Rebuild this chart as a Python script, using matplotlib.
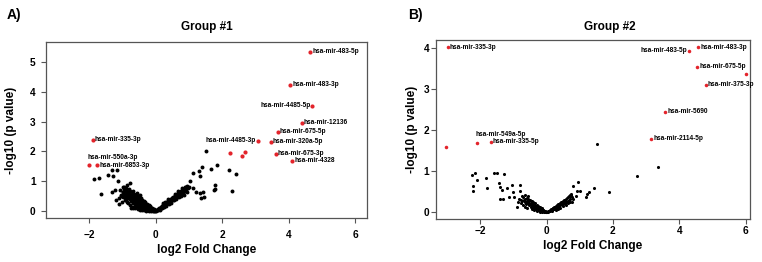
import matplotlib
matplotlib.use("Agg")
import matplotlib.pyplot as plt

plt.rcParams['font.family'] = ['Liberation Sans', 'DejaVu Sans']
plt.rcParams['font.weight'] = 'bold'

# ---- Group #1 data ----
a_black_x = [1.51, 1.12, 1.33, 1.30, 1.40, 1.65, 1.84, 2.19, 2.40, 2.29, 1.77, 1.79, 1.74, 1.04,
             1.41, 1.45, 1.35, 1.33, 1.22, 0.99, 1.12,
             -1.86, -1.70, -1.45, -1.32, -1.17, -1.30, -1.14, -1.64, -1.24, -1.31, -1.21, -1.12,
             -1.04, -0.97, -0.88, -0.78, -0.99, -0.93,
             -1.00, -0.96, -0.93, -0.90, -0.88, -0.86, -0.85, -0.84, -0.82, -0.80, -0.79, -0.78,
             -0.76, -0.75, -0.74, -0.72, -0.71, -0.70, -0.69, -0.68, -0.66, -0.65, -0.64, -0.63,
             -0.62, -0.61, -0.60, -0.59, -0.58, -0.57, -0.56, -0.55, -0.54, -0.53, -0.52, -0.51,
             -0.50, -0.49, -0.48, -0.47, -0.46, -0.45, -0.44, -0.43, -0.42, -0.41, -0.40, -0.39,
             -0.38, -0.37, -0.36, -0.35, -0.34, -0.33, -0.32, -0.31, -0.30, -0.29, -0.28, -0.27,
             -0.26, -0.25, -0.24, -0.23, -0.22, -0.21, -0.20, -0.19, -0.18, -0.17, -0.16, -0.15,
             -0.14, -0.13, -0.12, -0.11, -0.10, -0.09, -0.08, -0.07, -0.06, -0.05, -0.04, -0.03,
             -0.02, -0.01,
             -0.92, -0.95, -0.98, -0.87, -0.83, -0.77, -0.73, -0.67, -0.89, -1.05, -1.08, -0.99, -0.94,
             -1.10, -1.02, -0.91, -0.81, -0.70, -0.58, -0.47,
             -0.63, -0.55, -0.49, -0.41, -0.35, -0.28, -0.21, -0.74, -0.68,
             0.01, 0.03, 0.05, 0.06, 0.08, 0.10, 0.11, 0.13, 0.15, 0.16, 0.18, 0.20, 0.21, 0.23,
             0.25, 0.26, 0.28, 0.30, 0.31, 0.33, 0.35, 0.36, 0.38, 0.40, 0.41, 0.43, 0.45, 0.46,
             0.48, 0.50, 0.51, 0.53, 0.55, 0.56, 0.58, 0.60, 0.61, 0.63, 0.65, 0.66, 0.68, 0.70,
             0.72, 0.74, 0.76, 0.78, 0.80, 0.82, 0.84, 0.86, 0.88, 0.90, 0.92, 0.95, 0.97, 0.93,
             0.85, 0.75, 0.70, 0.62, 0.55, 0.47, 0.40, 0.32, 0.25, 0.18, 0.12,
             0.44, 0.52, 0.64, 0.73, 0.81, 0.89,
             0.22, 0.29, 0.37, 0.58, 0.67, 0.79, 0.87]
a_black_y = [2.03, 1.29, 1.16, 1.34, 1.49, 1.41, 1.53, 1.36, 1.25, 0.67, 0.88, 0.75, 0.71, 0.99,
             0.65, 0.48, 0.43, 0.60, 0.65, 0.82, 0.76,
             1.07, 1.09, 1.21, 1.37, 1.37, 1.18, 1.00, 0.58, 0.71, 0.62, 0.37, 0.24,
             0.51, 0.82, 0.86, 0.95, 0.65, 0.48,
             0.80, 0.72, 0.66, 0.70, 0.60, 0.52, 0.44, 0.65, 0.58, 0.50, 0.40, 0.68,
             0.33, 0.55, 0.46, 0.62, 0.38, 0.28, 0.52, 0.45, 0.58, 0.35, 0.22, 0.48,
             0.41, 0.55, 0.30, 0.18, 0.44, 0.37, 0.50, 0.26, 0.15, 0.40, 0.33, 0.46,
             0.22, 0.12, 0.36, 0.29, 0.42, 0.19, 0.10, 0.32, 0.26, 0.38, 0.16, 0.08,
             0.28, 0.22, 0.33, 0.13, 0.06, 0.24, 0.19, 0.29, 0.10, 0.05, 0.20, 0.15,
             0.24, 0.08, 0.03, 0.17, 0.12, 0.20, 0.06, 0.02, 0.13, 0.09, 0.15, 0.04,
             0.01, 0.10, 0.06, 0.11, 0.03, 0.01, 0.07, 0.04, 0.06, 0.02, 0.01, 0.03,
             0.01, 0.02,
             0.48, 0.58, 0.62, 0.30, 0.25, 0.20, 0.14, 0.12, 0.38, 0.55, 0.70, 0.45, 0.35,
             0.42, 0.30, 0.78, 0.74, 0.66, 0.60, 0.52,
             0.08, 0.06, 0.04, 0.03, 0.02, 0.01, 0.01, 0.10, 0.09,
             0.01, 0.03, 0.04, 0.02, 0.07, 0.08, 0.05, 0.11, 0.12, 0.09, 0.16, 0.17, 0.13, 0.20,
             0.22, 0.18, 0.25, 0.26, 0.22, 0.29, 0.30, 0.27, 0.34, 0.35, 0.31, 0.38, 0.39, 0.35,
             0.42, 0.44, 0.40, 0.47, 0.48, 0.44, 0.51, 0.52, 0.48, 0.55, 0.57, 0.52, 0.60, 0.61,
             0.56, 0.64, 0.66, 0.62, 0.70, 0.72, 0.67, 0.75, 0.78, 0.73, 0.80, 0.84, 0.78, 0.62,
             0.55, 0.50, 0.45, 0.40, 0.35, 0.28, 0.22, 0.17, 0.12, 0.08, 0.04,
             0.32, 0.36, 0.46, 0.54, 0.60, 0.66,
             0.25, 0.31, 0.40, 0.58, 0.66, 0.76, 0.82]

a_red_x = [4.64, 4.04, 4.71, 4.38, 3.66, 3.46, 3.06, 3.61, 4.10, -1.90, -2.02, -1.77, 2.24, 2.67, 2.60]
a_red_y = [5.36, 4.25, 3.54, 2.97, 2.66, 2.33, 2.36, 1.93, 1.69, 2.40, 1.53, 1.53, 1.94, 1.99, 1.84]
a_names = ['hsa-mir-483-5p', 'hsa-mir-483-3p', 'hsa-mir-4485-5p', 'hsa-mir-12136', 'hsa-mir-675-5p',
           'hsa-mir-320a-5p', 'hsa-mir-4485-3p', 'hsa-mir-675-3p', 'hsa-mir-4328', 'hsa-mir-335-3p',
           'hsa-mir-550a-3p', 'hsa-mir-6853-3p', '', '', '']
a_side = ['r', 'r', 'l', 'r', 'r', 'r', 'l', 'r', 'r', 'r', 'u', 'r', '', '', '']

# ---- Group #2 data ----
b_black_x = [1.52, 3.36, 2.74, 1.88, 1.44, 1.20, 1.22, 1.27, 0.95, 1.01, 0.92, 0.81, 0.75, 0.89,
             0.80, 0.78, 0.70,
             -2.24, -2.17, -2.11, -2.23, -2.21, -1.82, -1.78, -1.59, -1.48, -1.28, -1.44, -1.40,
             -1.34, -1.41, -1.30, -1.20, -1.13, -1.05, -1.01, -0.97, -0.80, -0.79, -0.87, -0.90,
             -0.77, -0.65, -0.57, -0.61,
             -0.70, -0.68, -0.66, -0.64, -0.62, -0.60, -0.58, -0.57, -0.55, -0.54, -0.52, -0.51,
             -0.50, -0.48, -0.47, -0.46, -0.45, -0.43, -0.42, -0.41, -0.40, -0.38, -0.37, -0.36,
             -0.35, -0.33, -0.32, -0.31, -0.30, -0.28, -0.27, -0.26, -0.25, -0.23, -0.22, -0.21,
             -0.20, -0.18, -0.17, -0.16, -0.15, -0.13, -0.12, -0.11, -0.10, -0.08, -0.07, -0.06,
             -0.05, -0.03, -0.02, -0.01,
             -0.75, -0.72, -0.78, -0.66, -0.59, -0.82, -0.74,
             0.01, 0.03, 0.05, 0.07, 0.09, 0.10, 0.12, 0.14, 0.16, 0.18, 0.20, 0.22, 0.24, 0.26,
             0.28, 0.30, 0.32, 0.34, 0.36, 0.38, 0.40, 0.42, 0.44, 0.46, 0.48, 0.50, 0.52, 0.54,
             0.56, 0.58, 0.60, 0.62, 0.64, 0.66, 0.68, 0.70, 0.72, 0.75, 0.78, 0.58, 0.50, 0.42,
             0.65, 0.72, 0.35, 0.28,
             -0.44, -0.39, -0.29, -0.19, 0.15, 0.25, 0.38, 0.55, 0.68]
b_black_y = [1.66, 1.10, 0.89, 0.51, 0.60, 0.37, 0.46, 0.50, 0.75, 0.53, 0.53, 0.65, 0.46, 0.40,
             0.33, 0.26, 0.42,
             0.91, 0.95, 0.79, 0.65, 0.53, 0.83, 0.59, 0.95, 0.95, 0.93, 0.72, 0.63,
             0.54, 0.33, 0.33, 0.59, 0.37, 0.67, 0.49, 0.38, 0.67, 0.53, 0.25, 0.14,
             0.30, 0.42, 0.40, 0.24,
             0.38, 0.30, 0.34, 0.26, 0.20, 0.36, 0.29, 0.22, 0.32, 0.17, 0.27, 0.21,
             0.30, 0.14, 0.24, 0.19, 0.27, 0.12, 0.21, 0.16, 0.25, 0.10, 0.19, 0.14,
             0.22, 0.08, 0.16, 0.12, 0.19, 0.06, 0.13, 0.10, 0.16, 0.05, 0.11, 0.08,
             0.13, 0.03, 0.08, 0.06, 0.10, 0.02, 0.06, 0.04, 0.07, 0.01, 0.04, 0.03,
             0.04, 0.01, 0.02, 0.01,
             0.28, 0.18, 0.22, 0.14, 0.10, 0.32, 0.40,
             0.01, 0.02, 0.03, 0.04, 0.05, 0.03, 0.07, 0.08, 0.06, 0.10, 0.11, 0.08, 0.13, 0.14,
             0.11, 0.16, 0.18, 0.14, 0.20, 0.21, 0.17, 0.23, 0.25, 0.20, 0.26, 0.28, 0.23, 0.30,
             0.31, 0.26, 0.33, 0.35, 0.29, 0.37, 0.39, 0.32, 0.41, 0.43, 0.37, 0.18, 0.15, 0.12,
             0.22, 0.25, 0.09, 0.06,
             0.08, 0.05, 0.03, 0.02, 0.03, 0.09, 0.16, 0.20, 0.27]

b_red_x = [-2.98, -3.04, -2.11, -1.68, 4.30, 4.57, 4.54, 6.02, 4.80, 3.58, 3.16]
b_red_y = [4.02, 1.60, 1.70, 1.72, 3.94, 4.02, 3.55, 3.38, 3.11, 2.45, 1.79]
b_names = ['hsa-mir-335-3p', '', 'hsa-mir-549a-5p', 'hsa-mir-335-5p', 'hsa-mir-483-5p',
           'hsa-mir-483-3p', 'hsa-mir-675-5p', '', 'hsa-mir-375-3p', 'hsa-mir-5690', 'hsa-mir-2114-5p']
b_side = ['r', '', 'u', 'r', 'l', 'r', 'r', '', 'r', 'r', 'r']

fig = plt.figure(figsize=(7.62, 2.62), dpi=100)
axA = fig.add_axes([0.0604, 0.168, 0.4213, 0.672])
axB = fig.add_axes([0.5722, 0.164, 0.4120, 0.683])

red = '#e3242b'


def style(ax, xlim, ylim, yticks, xpad, ypad, ylabpad):
    ax.set_xlim(*xlim)
    ax.set_ylim(*ylim)
    ax.set_xticks([-2, 0, 2, 4, 6])
    ax.set_yticks(yticks)
    for s in ax.spines.values():
        s.set_color('#555555')
        s.set_linewidth(0.9)
    ax.tick_params(length=3.5, width=0.8, color='#555555', labelsize=7.3)
    ax.tick_params(axis='x', pad=xpad)
    ax.tick_params(axis='y', pad=ypad)
    for lab in ax.get_xticklabels() + ax.get_yticklabels():
        lab.set_fontweight('bold')
    ax.set_xlabel('log2 Fold Change', fontsize=8.5, fontweight='bold', labelpad=3)
    ax.set_ylabel('-log10 (p value)', fontsize=8.5, fontweight='bold', labelpad=ylabpad)


def labels(ax, xs, ys, names, sides, dx, dy_up):
    for x, y, n, s in zip(xs, ys, names, sides):
        if not n:
            continue
        if s == 'r':
            ax.annotate(n, (x, y), xytext=(1.5, 0), textcoords='offset points',
                        ha='left', va='center', fontsize=4.7, fontweight='bold')
        elif s == 'l':
            ax.annotate(n, (x, y), xytext=(-1.5, 0), textcoords='offset points',
                        ha='right', va='center', fontsize=4.7, fontweight='bold')
        else:
            ax.annotate(n, (x, y), xytext=(dx, dy_up), textcoords='offset points',
                        ha='left', va='center', fontsize=4.7, fontweight='bold')


axA.scatter(a_black_x, a_black_y, s=8, c='black', linewidths=0, zorder=2)
axA.scatter(a_red_x, a_red_y, s=9, c=red, linewidths=0, zorder=3)
labels(axA, a_red_x, a_red_y, a_names, a_side, -1, 6)
style(axA, (-3.3, 6.35), (-0.24, 5.69), [0, 1, 2, 3, 4, 5], 5, 4, 9)

axB.scatter(b_black_x, b_black_y, s=5, c='black', linewidths=0, zorder=2)
axB.scatter(b_red_x, b_red_y, s=6.5, c=red, linewidths=0, zorder=3)
labels(axB, b_red_x, b_red_y, b_names, b_side, -1, 6)
style(axB, (-3.33, 6.13), (-0.16, 4.2), [0, 1, 2, 3, 4], 1.5, 1.5, 4)

fig.text(206.5 / 762, 1 - 27 / 262, 'Group #1', ha='center', va='center', fontsize=8.5, fontweight='bold')
fig.text(610 / 762, 1 - 27 / 262, 'Group #2', ha='center', va='center', fontsize=8.5, fontweight='bold')
fig.text(14 / 762, 1 - 15 / 262, 'A)', ha='center', va='center', fontsize=10, fontweight='bold')
fig.text(415 / 762, 1 - 15 / 262, 'B)', ha='center', va='center', fontsize=10, fontweight='bold')

fig.savefig('out.png', dpi=100)
